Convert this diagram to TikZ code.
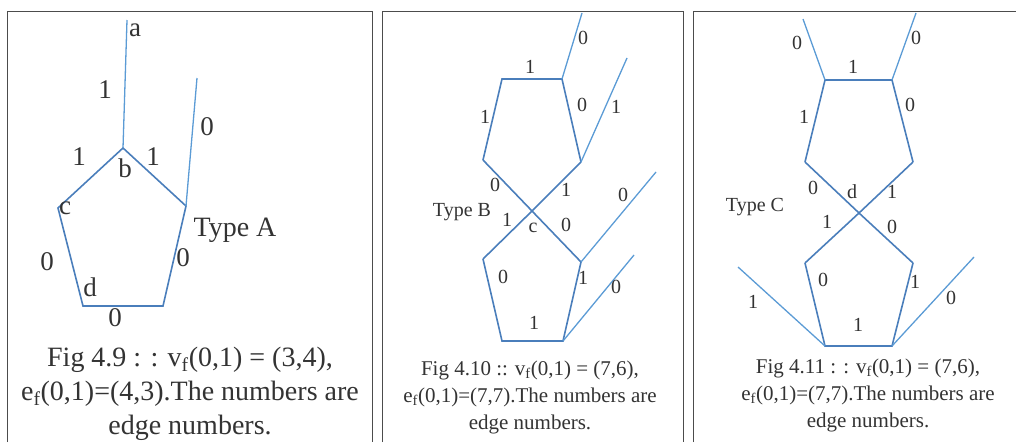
\documentclass[tikz,border=0pt]{standalone}
\usepackage{fontspec}
\setmainfont{Liberation Serif}
\usetikzlibrary{positioning}
\definecolor{edgeblue}{HTML}{4A7EBB}
\definecolor{stubblue}{HTML}{5B9BD5}

\begin{document}
\begin{tikzpicture}[x=1pt, y=-1pt,
    panel/.style={draw=black!70, line width=1pt},
    edge/.style={draw=edgeblue, line width=1.6pt, line join=miter},
    stub/.style={draw=stubblue, line width=1.3pt},
    num/.style={inner sep=0pt, text=black!80, font=\fontsize{20}{20}\selectfont},
    bignum/.style={num, font=\fontsize{27}{27}\selectfont},
    caption/.style={align=center, text=black!80, inner sep=0pt}
]
    \useasboundingbox (0,0) rectangle (1016,442);

    % Panel frames (open at the bottom)
    \draw[panel] (7,442) -- (7,11) -- (372,11) -- (372,442);
    \draw[panel] (382,442) -- (382,11) -- (683,11) -- (683,442);
    \draw[panel] (693,442) -- (693,11) -- (1016,11);

    % Type A pentagon
    \coordinate (Ab) at (123,148);
    \coordinate (Ar) at (186,206);
    \coordinate (Ae) at (163,306);
    \coordinate (Ad) at (83,306);
    \coordinate (Ac) at (58,208);
    \coordinate (Aa) at (127,20);
    \coordinate (As) at (197,78);
    \draw[edge] (Ab) -- (Ar) -- (Ae) -- (Ad) -- (Ac) -- cycle;
    \draw[stub] (Ab) -- (Aa);
    \draw[stub] (Ar) -- (As);

    % Type A labels
    \foreach \x/\y/\t [count=\i] in {105/90/1, 207/127/0, 79/157/1, 125/168/b,
        153/157/1, 65/208/c, 47/262/0, 183/258/0, 90/287/d, 115/318/0, 135/30/a} {
        \node[bignum] (la\i) at (\x,\y) {\t};
    }
    \node[bignum, font=\fontsize{28}{28}\selectfont] (typeA) at (235,230) {Type A};
    \node[caption, font=\fontsize{28}{34}\selectfont] (capA) at (190,394)
        {Fig 4.9 : : v\textsubscript{f}(0,1) = (3,4),\\
         e\textsubscript{f}(0,1)=(4,3).The numbers are\\ edge numbers.};

    % Type B double pentagon
    \coordinate (B1) at (502,79);
    \coordinate (B2) at (562,79);
    \coordinate (B3) at (581,162);
    \coordinate (B4) at (483,160);
    \coordinate (Bc) at (532,211);
    \coordinate (B5) at (483,259);
    \coordinate (B6) at (581,262);
    \coordinate (B7) at (563,341);
    \coordinate (B8) at (502,341);
    \coordinate (Bs1) at (582,13);
    \coordinate (Bs2) at (627,58);
    \coordinate (Bs3) at (656,172);
    \coordinate (Bs4) at (634,255);
    \draw[edge] (B4) -- (B1) -- (B2) -- (B3);
    \draw[edge] (B4) -- (Bc) -- (B6);
    \draw[edge] (B3) -- (Bc) -- (B5);
    \draw[edge] (B5) -- (B8) -- (B7) -- (B6);
    \draw[stub] (B2) -- (Bs1);
    \draw[stub] (B3) -- (Bs2);
    \draw[stub] (B6) -- (Bs3);
    \draw[stub] (B7) -- (Bs4);

    % Type B labels
    \foreach \x/\y/\t [count=\i] in {583/38/0, 530/67/1, 582/105/0, 616/107/1,
        485/117/1, 495/185/0, 566/190/1, 623/195/0, 507/220/1, 533/228/c,
        566/225/0, 503/277/0, 583/278/1, 616/287/0, 534/323/1} {
        \node[num] (lb\i) at (\x,\y) {\t};
    }
    \node[num] (typeB) at (462,212) {Type B};
    \node[caption, font=\fontsize{21}{27}\selectfont] (capB) at (530,397)
        {Fig 4.10 :: v\textsubscript{f}(0,1) = (7,6),\\
         e\textsubscript{f}(0,1)=(7,7).The numbers are\\ edge numbers.};

    % Type C double pentagon
    \coordinate (C1) at (825,80);
    \coordinate (C2) at (892,80);
    \coordinate (C3) at (913,162);
    \coordinate (C4) at (805,162);
    \coordinate (Cd) at (859,213);
    \coordinate (C5) at (805,263);
    \coordinate (C6) at (913,263);
    \coordinate (C7) at (892,346);
    \coordinate (C8) at (825,346);
    \coordinate (Cs1) at (803,19);
    \coordinate (Cs2) at (916,13);
    \coordinate (Cs3) at (738,267);
    \coordinate (Cs4) at (974,257);
    \draw[edge] (C4) -- (C1) -- (C2) -- (C3);
    \draw[edge] (C4) -- (Cd) -- (C6);
    \draw[edge] (C3) -- (Cd) -- (C5);
    \draw[edge] (C5) -- (C8) -- (C7) -- (C6);
    \draw[stub] (C1) -- (Cs1);
    \draw[stub] (C2) -- (Cs2);
    \draw[stub] (C8) -- (Cs3);
    \draw[stub] (C7) -- (Cs4);

    % Type C labels
    \foreach \x/\y/\t [count=\i] in {797/43/0, 916/38/0, 853/67/1, 804/117/1,
        910/105/0, 813/188/0, 852/192/d, 892/192/1, 827/222/1, 892/227/0,
        823/280/0, 915/282/1, 753/302/1, 951/298/0, 858/325/1} {
        \node[num] (lc\i) at (\x,\y) {\t};
    }
    \node[num] (typeC) at (755,207) {Type C};
    \node[caption, font=\fontsize{21}{27}\selectfont] (capC) at (868,395)
        {Fig 4.11 : : v\textsubscript{f}(0,1) = (7,6),\\
         e\textsubscript{f}(0,1)=(7,7).The numbers are\\ edge numbers.};
\end{tikzpicture}
\end{document}
